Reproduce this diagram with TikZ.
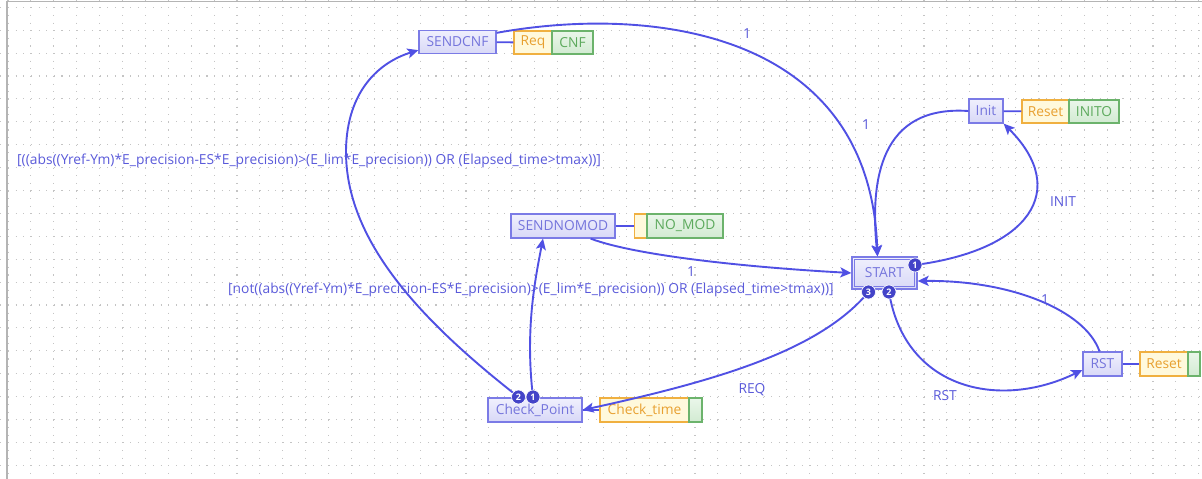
\documentclass[tikz,border=0pt]{standalone}
\usepackage{fontspec}
\setmainfont{Open Sans}
\usetikzlibrary{arrows.meta}

\definecolor{edgeblue}{HTML}{5050E4}
\definecolor{labelblue}{HTML}{5A5ADA}
\definecolor{stateline}{HTML}{7B7BE6}
\definecolor{statetop}{HTML}{F0F0FD}
\definecolor{statebot}{HTML}{D8D8F7}
\definecolor{statetext}{HTML}{7575DC}
\definecolor{actline}{HTML}{F0B040}
\definecolor{actfill}{HTML}{FFF9DC}
\definecolor{acttext}{HTML}{E8A030}
\definecolor{outline}{HTML}{6CB36C}
\definecolor{outtop}{HTML}{EAF6EA}
\definecolor{outbot}{HTML}{D2EBD2}
\definecolor{outtext}{HTML}{5DAA5D}
\definecolor{badgefill}{HTML}{4343C8}
\definecolor{gridgray}{HTML}{C4C4C4}
\definecolor{framegray}{HTML}{B4B4B4}

\begin{document}
\begin{tikzpicture}[x=1pt,y=-1pt,
  txt/.style={font=\fontsize{13.8}{16}\selectfont},
  state/.style={txt, draw=stateline, line width=1.3pt, top color=statetop,
    bottom color=statebot, text=statetext, minimum height=23pt, inner sep=0pt},
  act/.style={txt, draw=actline, line width=1.3pt, fill=actfill, text=acttext,
    minimum height=23pt, inner sep=0pt},
  outbox/.style={txt, draw=outline, line width=1.3pt, top color=outtop,
    bottom color=outbot, text=outtext, minimum height=23pt, inner sep=0pt},
  link/.style={draw=edgeblue, line width=1.8pt},
  edge/.style={draw=edgeblue, line width=1.9pt,
    -{Stealth[length=11pt,width=10pt,inset=2.5pt]}},
  elabel/.style={txt, text=labelblue, inner sep=0pt},
  badge/.style={circle, fill=badgefill, draw=white, line width=0.6pt,
    text=white, inner sep=0pt, minimum size=14pt,
    font=\fontsize{9}{9}\bfseries\selectfont},
  griddot/.style={draw=gridgray, line width=1.1pt, dash pattern=on 1.1pt off 6.533pt},
]
\useasboundingbox (0,0) rectangle (1202,479);
\fill[white] (0,0) rectangle (1202,479);

% dotted background grid
\foreach \r in {0,...,20}
  \draw[griddot] (0.37,{7.3+22.9*\r}) -- (1202,{7.3+22.9*\r});
\foreach \c in {0,...,52}
  \draw[griddot] ({8+22.9*\c},-0.33) -- ({8+22.9*\c},479);
\draw[framegray, line width=1.2pt] (7,479) -- (7,1.5) -- (1202,1.5);

% states with their action and output blocks
\node[state, minimum width=77pt] (sendcnf) at (457.5,42) {SENDCNF};
\node[act, minimum width=38pt] (req) at (533,42.5) {Req};
\node[outbox, minimum width=41pt] (cnf) at (572.5,42.5) {CNF};

\node[state, minimum width=34pt, minimum height=24pt] (init) at (986,111) {Init};
\node[act, minimum width=47pt] (initreset) at (1045.5,111.5) {Reset};
\node[outbox, minimum width=50pt] (inito) at (1094,111.5) {INITO};

\node[state, minimum width=65pt, minimum height=32pt] (start) at (884.5,273) {START};
\draw[stateline, line width=1.1pt] ([shift={(3pt,-3pt)}]start.north west)
  rectangle ([shift={(-3pt,3pt)}]start.south east);

\node[state, minimum width=104pt, minimum height=24pt] (sendnomod) at (563,226) {SENDNOMOD};
\node[act, minimum width=12pt, minimum height=24pt] (nomodact) at (640.5,226) {};
\node[outbox, minimum width=76pt, minimum height=24pt] (nomod) at (685,226) {NO\_MOD};

\node[state, minimum width=94pt, minimum height=24pt] (checkpoint) at (535,410) {Check\_Point};
\node[act, minimum width=89pt, minimum height=24pt] (checktime) at (644.5,410) {Check\_time};
\node[outbox, minimum width=13pt, minimum height=24pt] (checkout) at (695.5,410) {};

\node[state, minimum width=39pt, minimum height=24pt] (rst) at (1102.5,364) {RST};
\node[act, minimum width=48pt, minimum height=24pt] (rstreset) at (1164,364) {Reset};
\node[outbox, minimum width=12pt, minimum height=24pt] (rstout) at (1194,364) {};

% state-to-action links
\draw[link] (sendcnf) -- (req);
\draw[link] (init) -- (initreset);
\draw[link] (sendnomod) -- (nomodact);
\draw[link] (checkpoint) -- (checktime);
\draw[link] (rst) -- (rstreset);

% transition priority points
\coordinate (s1) at (915,265);
\coordinate (s2) at (889,292);
\coordinate (s3) at (868.5,292);
\coordinate (c1) at (533,397);
\coordinate (c2) at (518.5,397);

% transitions
\draw[edge] ([yshift=-3pt]sendcnf.north east) .. controls (650,5) and (870,30)
  .. ([xshift=-7pt]start.north);
\draw[edge] (init.west) .. controls (880,105) and (870,180)
  .. ([xshift=-7pt]start.north);
\draw[edge] (s1) .. controls (1030,250) and (1070,190) .. (init.south east);
\draw[edge] ([xshift=-25pt]sendnomod.south east) .. controls (640,257) and (760,268)
  .. (start.west);
\draw[edge] (c1) .. controls (525,330) and (535,280) .. ([xshift=-20pt]sendnomod.south);
\draw[edge] (c2) .. controls (420,320) and (345,240) .. (346,150)
  .. controls (347,90) and (380,62) .. ([yshift=4pt]sendcnf.south west);
\draw[edge] (s3) .. controls (820,350) and (720,380) .. (checkpoint.east);
\draw[edge] (s2) .. controls (905,390) and (1000,410) .. ([yshift=-6pt]rst.west);
\draw[edge] ([xshift=-3pt]rst.north) .. controls (1085,310) and (1010,280)
  .. ([yshift=-8pt]start.east);

% priority badges
\node[badge] (b1) at (s1) {1};
\node[badge] (b2) at (s2) {2};
\node[badge] (b3) at (s3) {3};
\node[badge] (bc1) at (c1) {1};
\node[badge] (bc2) at (c2) {2};

% transition labels
\node[elabel] (l1) at (747,34) {1};
\node[elabel] (l2) at (866,125) {1};
\node[elabel] (l3) at (1063,202) {INIT};
\node[elabel] (l4) at (691,272) {1};
\node[elabel] (l5) at (752,390) {REQ};
\node[elabel] (l6) at (945,396) {RST};
\node[elabel] (l7) at (1045,300) {1};
\node[elabel, anchor=west] (g1) at (17,161)
  {[((abs((Yref-Ym)*E\_precision-ES*E\_precision)>(E\_lim*E\_precision)) OR (Elapsed\_time>tmax))]};
\node[elabel, anchor=west] (g2) at (228,290)
  {[not((abs((Yref-Ym)*E\_precision-ES*E\_precision)>(E\_lim*E\_precision)) OR (Elapsed\_time>tmax))]};
\end{tikzpicture}
\end{document}
